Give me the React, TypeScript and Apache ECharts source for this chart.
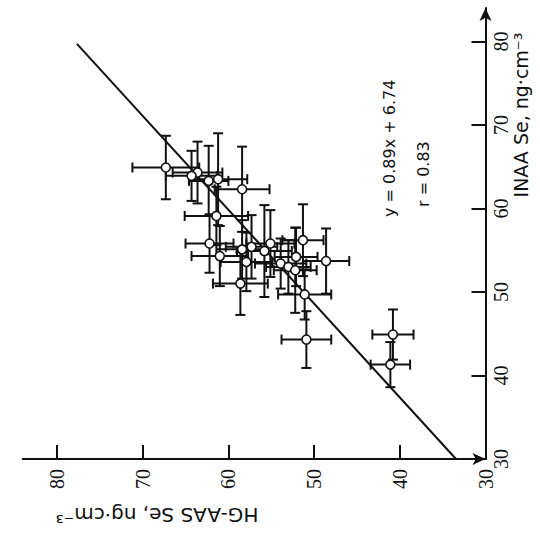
import React, { useEffect, useRef } from "react";
import * as echarts from "echarts";

// Data read from the (rotated) reference figure
const inaa = [64.9, 64.3, 63.9, 63.3, 63.5, 62.3, 59.1, 55.8, 54.3, 51.0, 53.6, 55.4, 54.9, 55.8, 56.2, 54.2, 53.4, 53.0, 52.6, 53.7, 49.7, 44.3, 44.9, 41.3, 55.1];
const hgaas = [67.3, 63.6, 64.3, 62.3, 61.2, 58.4, 61.4, 62.2, 61.0, 58.6, 57.9, 57.3, 55.8, 55.1, 51.3, 52.1, 53.9, 53.0, 52.2, 48.6, 51.1, 50.9, 40.8, 41.1, 58.4];
const hgaasErr = [3.9, 2.9, 3.0, 2.3, 3.4, 3.2, 3.7, 2.8, 3.3, 3.2, 3.0, 3.0, 3.2, 2.8, 2.4, 2.5, 3.0, 2.6, 2.5, 2.7, 3.1, 2.9, 2.4, 2.3, 3.0];
const inaaErr = [3.8, 3.7, 3.0, 4.2, 5.5, 5.1, 3.5, 3.5, 3.6, 3.75, 3.5, 3.8, 5.5, 4.0, 4.3, 3.5, 3.0, 3.2, 5.1, 3.9, 3.0, 3.4, 3.0, 2.7, 3.5];

const tickValues = [30, 40, 50, 60, 70, 80];
const innerTickValues = [40, 50, 60, 70, 80];
const fitSlope = 0.89;
const fitIntercept = 6.74;
const fitRange = [30, 79.7];

const INK = "#111111";

export default function App() {
  const ref = useRef<HTMLDivElement>(null);
  useEffect(() => {
    if (!ref.current) return;
    const chart = echarts.init(ref.current, null, { renderer: "svg" });
    const errData = hgaas.map((h, i) => [h, inaa[i], hgaasErr[i], inaaErr[i]]);
    const ptData = hgaas.map((h, i) => [h, inaa[i]]);
    const fitData = fitRange.map((x) => [fitSlope * x + fitIntercept, x]);
    const axisCommon = {
      type: "value",
      min: 30,
      max: 84,
      interval: 10,
      splitLine: { show: false },
      axisLine: {
        show: true,
        symbol: ["none", "arrow"],
        symbolSize: [9, 13],
        lineStyle: { color: INK, width: 2 },
      },
      axisTick: {
        show: true,
        inside: true,
        length: 14,
        customValues: innerTickValues,
        lineStyle: { color: INK, width: 2 },
      },
    };
    const labelCommon = {
      rotate: 90,
      customValues: tickValues,
      color: INK,
      fontFamily: "Liberation Sans Narrow",
      fontSize: 20,
    };
    chart.setOption({
      animation: false,
      backgroundColor: "#ffffff",
      grid: { left: 22.7, right: 54.5, top: 8, bottom: 75, outerBoundsMode: "none" },
      xAxis: {
        ...axisCommon,
        inverse: true,
        position: "bottom",
        axisLabel: { ...labelCommon, margin: 10 },
      },
      yAxis: {
        ...axisCommon,
        position: "right",
        axisLabel: { ...labelCommon, margin: 5 },
      },
      graphic: [
        {
          type: "text",
          x: 157,
          y: 515,
          rotation: Math.PI,
          style: {
            text: "HG-AAS Se, ng·cm⁻³",
            fill: INK,
            font: "20px 'DejaVu Sans'",
            textAlign: "center",
            textVerticalAlign: "middle",
          },
        },
        {
          type: "text",
          x: 521,
          y: 115,
          rotation: Math.PI / 2,
          style: {
            text: "INAA Se, ng·cm⁻³",
            fill: INK,
            font: "19px 'DejaVu Sans'",
            textAlign: "center",
            textVerticalAlign: "middle",
          },
        },
        {
          type: "text",
          x: 389,
          y: 217,
          rotation: Math.PI / 2,
          style: {
            text: "y = 0.89x + 6.74",
            fill: INK,
            font: "16px 'DejaVu Sans'",
            textAlign: "left",
            textVerticalAlign: "middle",
          },
        },
        {
          type: "text",
          x: 423,
          y: 207,
          rotation: Math.PI / 2,
          style: {
            text: "r = 0.83",
            fill: INK,
            font: "16px 'DejaVu Sans'",
            textAlign: "left",
            textVerticalAlign: "middle",
          },
        },
      ],
      series: [
        {
          type: "line",
          data: fitData,
          symbol: "none",
          lineStyle: { color: INK, width: 2 },
          z: 1,
        },
        {
          type: "custom",
          data: errData,
          encode: { x: 0, y: 1 },
          z: 2,
          renderItem: (params: any, api: any) => {
            const h = api.value(0);
            const v = api.value(1);
            const he = api.value(2);
            const ve = api.value(3);
            const l = api.coord([h + he, v]);
            const r = api.coord([h - he, v]);
            const t = api.coord([h, v + ve]);
            const b = api.coord([h, v - ve]);
            const cap = 5;
            const style = { stroke: INK, lineWidth: 2 };
            const ln = (x1: number, y1: number, x2: number, y2: number) => ({
              type: "line",
              shape: { x1, y1, x2, y2 },
              style,
            });
            return {
              type: "group",
              children: [
                ln(l[0], l[1], r[0], r[1]),
                ln(t[0], t[1], b[0], b[1]),
                ln(l[0], l[1] - cap, l[0], l[1] + cap),
                ln(r[0], r[1] - cap, r[0], r[1] + cap),
                ln(t[0] - cap, t[1], t[0] + cap, t[1]),
                ln(b[0] - cap, b[1], b[0] + cap, b[1]),
              ],
            };
          },
        },
        {
          type: "scatter",
          data: ptData,
          symbol: "circle",
          symbolSize: 9,
          itemStyle: { color: "#ffffff", borderColor: INK, borderWidth: 1.6, opacity: 1 },
          z: 3,
        },
      ],
    });
    return () => chart.dispose();
  }, []);
  return (
    <div
      ref={ref}
      style={{ position: "fixed", left: 0, top: 0, width: 540, height: 534 }}
    />
  );
}
